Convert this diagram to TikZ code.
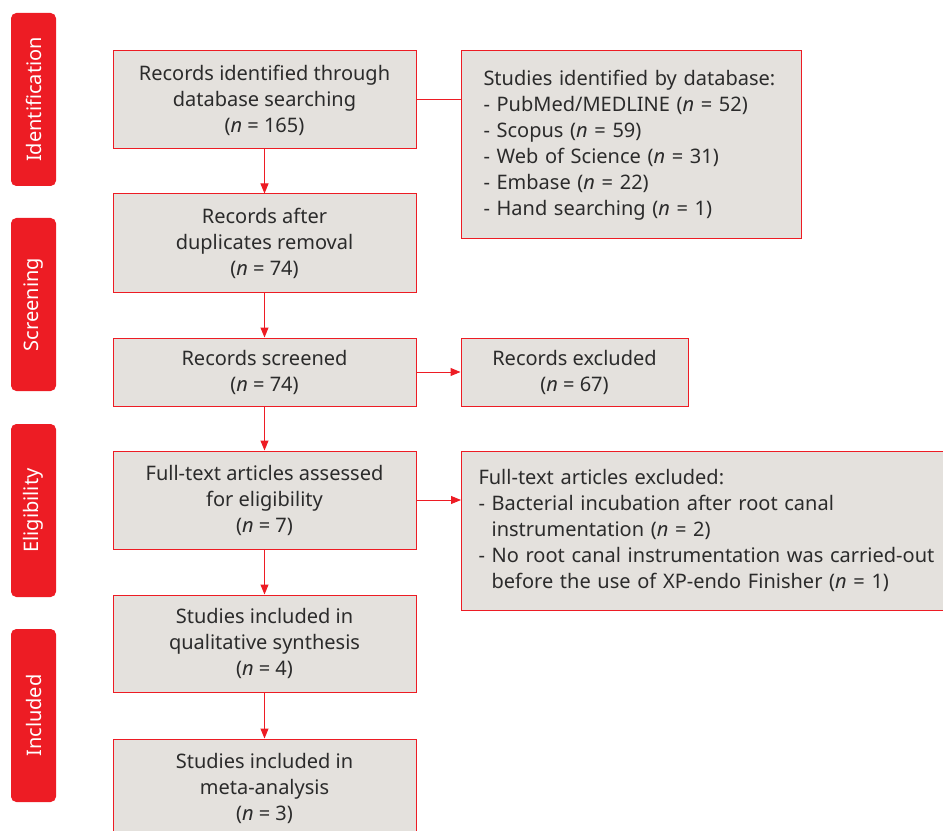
\documentclass[tikz,border=0pt]{standalone}
\usepackage{fontspec}
\setmainfont{Noto Sans}
\usetikzlibrary{positioning,arrows.meta}
\definecolor{redcol}{HTML}{ED1C24}
\definecolor{boxcol}{HTML}{E4E1DD}
\definecolor{textcol}{HTML}{2B2B2B}

\begin{document}
\begin{tikzpicture}[x=0.75pt,y=-0.75pt,
  stage/.style={fill=redcol,rounded corners=4pt,rotate=90,minimum width=129.75pt,minimum height=33.75pt,inner sep=0pt,text=white,font=\fontsize{15}{18}\selectfont},
  flowbox/.style={draw=redcol,line width=0.75pt,fill=boxcol,text=textcol,align=center,minimum width=227.25pt,inner sep=0pt,font=\fontsize{15}{19.5}\selectfont},
  sidebox/.style={flowbox,align=left,anchor=west,inner xsep=16.5pt},
  link/.style={draw=redcol,line width=0.75pt},
  arr/.style={link,-{Triangle[length=7.5pt,width=6pt]}}]
  \useasboundingbox (0,0) rectangle (943,831);
  \def\stages{%
    identification/99.5/Identification,%
    screening/304.5/Screening,%
    eligibility/510.5/Eligibility,%
    included/715.5/Included%
  }
  \foreach \nm/\y/\txt in \stages {
    \node[stage] (\nm) at (33.5,\y) {\txt};
  }
  \node[flowbox,minimum height=73.5pt] (found) at (264.5,100) {Records identified through\\database searching\\(\textit{n} = 165)};
  \node[flowbox,minimum height=73.5pt] (dedup) at (264.5,243) {Records after\\duplicates removal\\(\textit{n} = 74)};
  \node[flowbox,minimum height=51pt] (screened) at (264.5,372) {Records screened\\(\textit{n} = 74)};
  \node[flowbox,minimum height=73.5pt] (fulltext) at (264.5,500) {Full-text articles assessed\\for eligibility\\(\textit{n} = 7)};
  \node[flowbox,minimum height=72.75pt] (qualit) at (264.5,643.5) {Studies included in\\qualitative synthesis\\(\textit{n} = 4)};
  \node[flowbox,minimum height=73.5pt] (meta) at (264.5,788) {Studies included in\\meta-analysis\\(\textit{n} = 3)};

  \node[sidebox,text width=222pt,minimum height=141pt] (bydb) at (461,145) {Studies identified by database:\\- PubMed/MEDLINE (\textit{n} = 52)\\- Scopus (\textit{n} = 59)\\- Web of Science (\textit{n} = 31)\\- Embase (\textit{n} = 22)\\- Hand searching (\textit{n} = 1)};
  \node[flowbox,minimum width=170.25pt,minimum height=51pt] (excl) at (574.5,372) {Records excluded\\(\textit{n} = 67)};
  \node[sidebox,inner xsep=12.75pt,text width=350pt,minimum height=119.25pt] (exclft) at (461,530.5) {Full-text articles excluded:\\- Bacterial incubation after root canal\\\phantom{- }instrumentation (\textit{n} = 2)\\- No root canal instrumentation was carried-out\\\phantom{- }before the use of XP-endo Finisher (\textit{n} = 1)};

  \draw[link] (found.east) -- (found.east -| bydb.west);
  \draw[arr] (found) -- (dedup);
  \draw[arr] (dedup) -- (screened);
  \draw[arr] (screened) -- (excl);
  \draw[arr] (screened) -- (fulltext);
  \draw[arr] (fulltext.east) -- (fulltext.east -| exclft.west);
  \draw[arr] (fulltext) -- (qualit);
  \draw[arr] (qualit) -- (meta);
\end{tikzpicture}
\end{document}
